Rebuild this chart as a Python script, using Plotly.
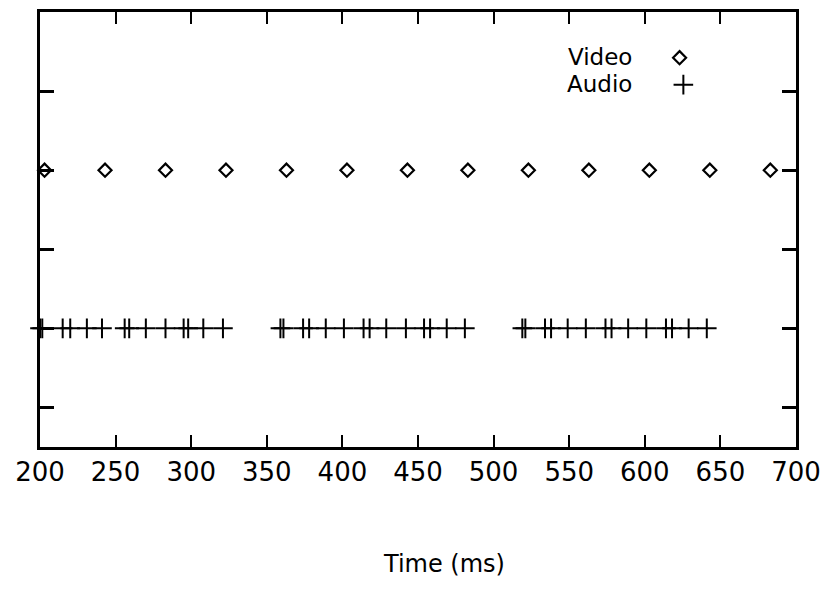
import plotly.graph_objects as go

# ---- data (ms) ----
video_times = [203, 243, 283, 323, 363, 403, 443, 483, 523, 563, 603, 643, 683]
audio_times = [200, 201.5, 215, 220, 231, 241, 256, 259, 270, 283, 295, 298, 308, 321,
               359, 361, 374, 378, 389, 401, 414, 418, 429, 442, 454, 458, 469, 481,
               519, 521, 534, 538, 549, 561, 574, 578, 589, 601, 614, 618, 629, 641]
video_level = 3
audio_level = 1
x_ticks = [200, 250, 300, 350, 400, 450, 500, 550, 600, 650, 700]
y_ticks = [0, 1, 2, 3, 4]
series_names = ["Video", "Audio"]

FONT = "DejaVu Sans"

diamond = dict(symbol="diamond-open", size=10, color="black", line=dict(width=2.2, color="black"))
plus = dict(symbol="cross-thin", size=14, color="black", line=dict(width=2, color="black"))

fig = go.Figure()
fig.add_trace(go.Scatter(
    x=video_times, y=[video_level] * len(video_times), mode="markers",
    marker=diamond, cliponaxis=False, showlegend=False))
fig.add_trace(go.Scatter(
    x=audio_times, y=[audio_level] * len(audio_times), mode="markers",
    marker=plus, cliponaxis=False, showlegend=False))

# legend samples on an overlay axis (fractions of plot area)
fig.add_trace(go.Scatter(
    x=[0.846], y=[0.895], xaxis="x2", yaxis="y2", mode="markers",
    marker=diamond, showlegend=False, cliponaxis=False))
fig.add_trace(go.Scatter(
    x=[0.851], y=[0.833], xaxis="x2", yaxis="y2", mode="markers",
    marker=plus, showlegend=False, cliponaxis=False))

annotations = [
    dict(text=series_names[0], x=0.786, y=0.897, xref="paper", yref="paper",
         xanchor="right", yanchor="middle", showarrow=False,
         font=dict(family=FONT, size=23, color="black")),
    dict(text=series_names[1], x=0.786, y=0.835, xref="paper", yref="paper",
         xanchor="right", yanchor="middle", showarrow=False,
         font=dict(family=FONT, size=23, color="black")),
    dict(text="Time (ms)", x=0.534, y=-0.270, xref="paper", yref="paper",
         xanchor="center", yanchor="middle", showarrow=False,
         font=dict(family=FONT, size=24, color="black")),
]

fig.update_layout(
    width=830, height=611,
    margin=dict(l=40, r=32, t=9, b=164),
    paper_bgcolor="white", plot_bgcolor="white",
    font=dict(family=FONT, color="black"),
    showlegend=False,
    annotations=annotations,
    xaxis=dict(range=[200, 700], tickvals=x_ticks, ticktext=[str(v) for v in x_ticks],
               ticks="inside", ticklen=12, tickwidth=2, tickcolor="black",
               showline=True, linewidth=3, linecolor="black", mirror="ticks",
               showgrid=False, zeroline=False,
               tickfont=dict(family=FONT, size=26, color="black")),
    yaxis=dict(range=[-0.5, 5], tickvals=y_ticks, showticklabels=False,
               ticks="inside", ticklen=14, tickwidth=3, tickcolor="black",
               showline=True, linewidth=3, linecolor="black", mirror="ticks",
               showgrid=False, zeroline=False),
    xaxis2=dict(range=[0, 1], overlaying="x", visible=False, anchor="y2"),
    yaxis2=dict(range=[0, 1], overlaying="y", visible=False, anchor="x2"),
)

fig.write_html("out.html", config={"displayModeBar": False},
               post_script="document.body.style.margin='0px';document.body.style.overflow='hidden';")
